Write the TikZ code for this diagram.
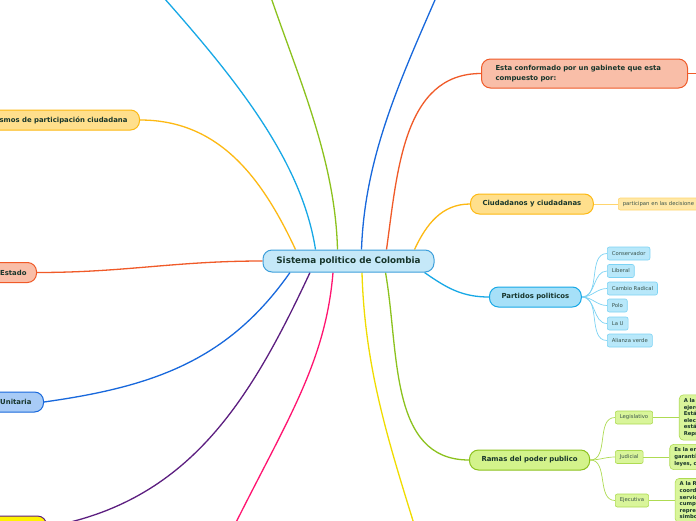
\documentclass[tikz,border=0pt]{standalone}
\usepackage{fontspec}
\setmainfont{DejaVu Sans}
\usepackage{xcolor}
\usetikzlibrary{positioning, backgrounds}

\definecolor{ink}{HTML}{17352B}
\definecolor{rootfill}{HTML}{C5E8F8}
\definecolor{rootline}{HTML}{3D9FDB}
\definecolor{salmonfill}{HTML}{F9BEA8}
\definecolor{redline}{HTML}{F05A28}
\definecolor{amberfill}{HTML}{FFDF8C}
\definecolor{amberline}{HTML}{FDB913}
\definecolor{amberleaf}{HTML}{FFE8A6}
\definecolor{amberleafline}{HTML}{FFD56E}
\definecolor{cyanfill}{HTML}{A6E0F8}
\definecolor{cyanline}{HTML}{17A8E6}
\definecolor{cyanleaf}{HTML}{B8E8FA}
\definecolor{cyanleafline}{HTML}{7DD3F4}
\definecolor{greenfill}{HTML}{D3F38B}
\definecolor{greenline}{HTML}{8CC21E}
\definecolor{greenleaf}{HTML}{D9F59A}
\definecolor{greenleafline}{HTML}{AEDB52}
\definecolor{bluefill}{HTML}{A8CBF6}
\definecolor{blueline}{HTML}{1868DC}
\definecolor{yelfill}{HTML}{FFF200}
\definecolor{yelline}{HTML}{F0DC00}
\definecolor{purpline}{HTML}{5C1E80}
\definecolor{pinkline}{HTML}{FF1470}

\begin{document}
\begin{tikzpicture}[
    x=1pt, y=1pt,
    main/.style={draw, line width=1pt, rounded corners=9pt, minimum height=20pt, inner xsep=12pt, font=\fontsize{6.9}{8.4}\selectfont\bfseries, text=ink},
    leaf/.style={draw, line width=0.6pt, rounded corners=2pt, minimum height=13pt, inner xsep=4.5pt, inner ysep=1pt, font=\fontsize{5.3}{6}\selectfont, text=ink!85},
    note/.style={draw=greenleafline, fill=greenleaf, line width=0.6pt, rounded corners=4pt, align=left, text width=40pt, inner xsep=4.5pt, inner ysep=3.5pt, font=\fontsize{5.3}{6.6}\selectfont\bfseries, text=ink},
    branch/.style={line width=1.3pt},
    twig/.style={line width=0.7pt}
]

\useasboundingbox (0,0) rectangle (696,-520);
\begin{scope}[on background layer]
\fill[white] (0,0) rectangle (696,-520);
\end{scope}
\clip (0,0) rectangle (696,-520);

% Root
\node[main, minimum width=171pt, minimum height=22pt, fill=rootfill, draw=rootline, font=\fontsize{8.8}{10}\selectfont\bfseries] (root) at (348.5,-261) {Sistema politico de Colombia};

% Nodes (left side)
\node[main, fill=amberfill, draw=amberline, anchor=east] (mecanismos) at (140,-120) {smos de participación ciudadana};
\node[main, fill=salmonfill, draw=redline, anchor=east, inner xsep=10pt] (estado) at (37,-272.5) {Estado};
\node[main, fill=bluefill, draw=blueline, anchor=east] (unitaria) at (44,-402) {Unitaria};
\node[main, fill=yelfill, draw=purpline, anchor=east, minimum width=90pt, minimum height=22pt] (bottomleft) at (47,-527) {};

% Nodes (right side)
\node[main, fill=salmonfill, draw=redline, anchor=west, align=left, text width=178pt, inner xsep=14pt, minimum height=29pt, font=\fontsize{6.9}{10}\selectfont\bfseries] (gabinete) at (481,-73.5) {Esta conformado por un gabinete que esta\\compuesto por:};
\node[main, fill=amberfill, draw=amberline, anchor=west] (ciudadanos) at (470,-204) {Ciudadanos y ciudadanas};
\node[leaf, fill=amberleaf, draw=amberleafline, anchor=west, minimum height=12pt, text width=80pt, align=left] (participan) at (618,-204) {participan en las decisione};
\node[main, fill=cyanfill, draw=cyanline, anchor=west] (partidos) at (489,-297) {Partidos politicos};
\node[main, fill=greenfill, draw=greenline, anchor=west] (ramas) at (469,-460) {Ramas del poder publico};

% Partidos
\node[leaf, fill=cyanleaf, draw=cyanleafline, anchor=west] (conservador) at (607,-253.5) {Conservador};
\node[leaf, fill=cyanleaf, draw=cyanleafline, anchor=west] (liberal) at (607,-271) {Liberal};
\node[leaf, fill=cyanleaf, draw=cyanleafline, anchor=west] (cambio) at (607,-288.5) {Cambio Radical};
\node[leaf, fill=cyanleaf, draw=cyanleafline, anchor=west] (polo) at (607,-305.5) {Polo};
\node[leaf, fill=cyanleaf, draw=cyanleafline, anchor=west] (lau) at (607,-323.5) {La U};
\node[leaf, fill=cyanleaf, draw=cyanleafline, anchor=west] (alianza) at (607,-340.5) {Alianza verde};

% Ramas
\node[leaf, fill=greenleaf, draw=greenleafline, anchor=west] (legislativo) at (615,-417.5) {Legislativo};
\node[leaf, fill=greenleaf, draw=greenleafline, anchor=west] (judicial) at (615,-457) {Judicial};
\node[leaf, fill=greenleaf, draw=greenleafline, anchor=west] (ejecutiva) at (615,-500.5) {Ejecutiva};
\node[note, right=26pt of legislativo] (legnote) {A la I\\ejerci\\Está\\elecc\\está\\Repr};
\node[note, right=26pt of judicial] (judnote) {Es la en-\\garantía\\leyes, c};
\node[note, right=26pt of ejecutiva] (ejenote) {A la Ra\\coordi\\servic\\cumpli\\repres\\simbo};

% Off-page ends
\coordinate (topcyan) at (130,40);
\coordinate (topgreen) at (262,30);
\coordinate (topblue) at (448,30);
\coordinate (downyellow) at (425,-560);
\coordinate (downpink) at (220,-555);
\coordinate (gabineteout) at (710,-73.5);

% Branches from the root
\begin{scope}[on background layer]
\clip (0,0) rectangle (696,-520);
\draw[branch, amberline] ([xshift=-53pt]root.north) to[out=115, in=0] (mecanismos.east);
\draw[branch, cyanline] ([xshift=-33pt]root.north) .. controls (300,-150) and (220,-60) .. (topcyan);
\draw[branch, greenline] ([xshift=-11pt]root.north) .. controls (335,-150) and (290,-60) .. (topgreen);
\draw[branch, blueline] ([xshift=13pt]root.north) .. controls (365,-150) and (405,-70) .. (topblue);
\draw[branch, redline] ([xshift=38pt]root.north) to[out=82, in=180] (gabinete.west);
\draw[branch, amberline] ([xshift=66pt]root.north) to[out=65, in=180] (ciudadanos.west);
\draw[branch, cyanline] ([xshift=76pt]root.south) to[out=-35, in=180] (partidos.west);
\draw[branch, greenline] ([xshift=37pt]root.south) to[out=-80, in=180] (ramas.west);
\draw[branch, yelline] ([xshift=13.5pt]root.south) .. controls (365,-380) and (395,-460) .. (downyellow);
\draw[branch, pinkline] ([xshift=-15.5pt]root.south) .. controls (325,-370) and (280,-430) .. (downpink);
\draw[branch, purpline] ([xshift=-38.5pt]root.south) to[out=-115, in=10] (bottomleft.east);
\draw[branch, blueline] ([xshift=-58.5pt]root.south) to[out=-125, in=8] (unitaria.east);
\draw[branch, redline] (root.west) to[out=180, in=0] (estado.east);
\draw[branch, redline] (gabinete.east) -- (gabineteout);

% Twigs
\draw[twig, amberleafline] (ciudadanos.east) -- (participan.west);
\draw[twig, cyanleafline] (partidos.east) to[out=0, in=180] (conservador.west);
\draw[twig, cyanleafline] (partidos.east) to[out=0, in=180] (liberal.west);
\draw[twig, cyanleafline] (partidos.east) to[out=0, in=180] (cambio.west);
\draw[twig, cyanleafline] (partidos.east) to[out=0, in=180] (polo.west);
\draw[twig, cyanleafline] (partidos.east) to[out=0, in=180] (lau.west);
\draw[twig, cyanleafline] (partidos.east) to[out=0, in=180] (alianza.west);
\draw[twig, greenleafline] (ramas.east) to[out=0, in=180] (legislativo.west);
\draw[twig, greenleafline] (ramas.east) to[out=0, in=180] (judicial.west);
\draw[twig, greenleafline] (ramas.east) to[out=0, in=180] (ejecutiva.west);
\draw[twig, greenleafline] (legislativo.east) -- (legnote.west);
\draw[twig, greenleafline] (judicial.east) -- (judnote.west);
\draw[twig, greenleafline] (ejecutiva.east) -- (ejenote.west);
\end{scope}

\end{tikzpicture}
\end{document}
